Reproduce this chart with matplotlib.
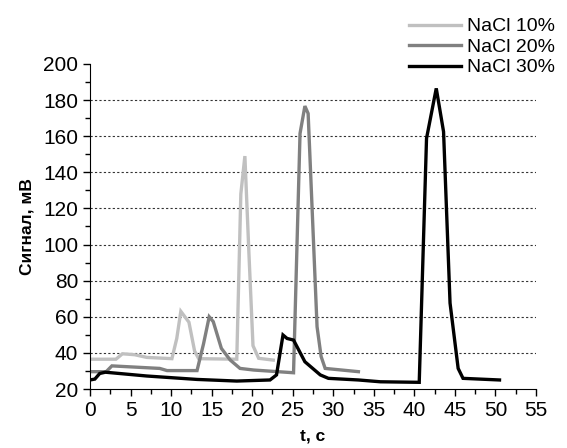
import matplotlib
matplotlib.use("Agg")
import matplotlib.pyplot as plt
from matplotlib.ticker import MultipleLocator

plt.rcParams['font.family'] = ['Liberation Sans', 'DejaVu Sans']

t10 = [0, 3.2, 4.0, 5.5, 7.0, 10.1, 10.7, 11.2, 12.2, 12.9, 13.4, 18.1, 18.6, 19.1, 19.6, 20.1, 20.8, 22.6]
s10 = [36.5, 36.5, 39.5, 39, 37.5, 36.8, 48, 63, 57, 41, 36.8, 36.5, 128, 149, 95, 44, 37, 36]

t20 = [0, 2.0, 2.7, 8.6, 9.5, 13.2, 14.0, 14.7, 15.2, 16.2, 17.3, 18.5, 20.2, 25.1, 25.9, 26.5, 26.9, 28.0, 28.5, 29.0, 33.1]
s20 = [29.6, 29.6, 32.8, 31.4, 30.2, 30.2, 45, 60, 57.3, 42.5, 36, 31.4, 30.5, 29, 161.5, 176.7, 172.6, 54.5, 38, 31.4, 29.6]

t30 = [0, 0.6, 1.2, 1.9, 7.0, 13.2, 18.1, 22.2, 23.0, 23.8, 24.3, 25.1, 26.5, 28.4, 29.4, 33.1, 35.8, 40.6, 41.5, 42.7, 43.6, 44.4, 45.4, 46.0, 50.5]
s30 = [25, 25.5, 28.6, 29.3, 27.2, 25.3, 24.4, 25, 27.8, 49.9, 48, 47.1, 35.1, 27.8, 25.9, 25, 24, 23.7, 158.8, 186.5, 162.5, 67.6, 31.4, 25.9, 25]

labels = ['NaCl 10%', 'NaCl 20%', 'NaCl 30%']
colors = ['#c0c0c0', '#808080', '#000000']

fig = plt.figure(figsize=(5.67, 4.48), dpi=100)
ax = fig.add_axes([90/567, 1-389/448, (536-90)/567, (389-64)/448])

for yv in range(40, 200, 20):
    ax.axhline(yv, color='#333333', lw=0.8, ls=(0, (2, 2)), zorder=0)

for t, s, lab, c in zip([t10, t20, t30], [s10, s20, s30], labels, colors):
    ax.plot(t, s, color=c, lw=2.4, label=lab, solid_joinstyle='miter')

ax.set_xlim(0, 55)
ax.set_ylim(20, 200)
ax.xaxis.set_major_locator(MultipleLocator(5))
ax.xaxis.set_minor_locator(MultipleLocator(2.5))
ax.yaxis.set_major_locator(MultipleLocator(20))
ax.yaxis.set_minor_locator(MultipleLocator(10))
ax.spines['top'].set_visible(False)
ax.spines['right'].set_visible(False)
ax.tick_params(which='major', direction='out', length=5, width=1, labelsize=15)
ax.tick_params(which='minor', direction='out', length=3.5, width=1)
ax.set_xlabel('t, c', fontsize=12.5, fontweight='bold', labelpad=6)
ax.set_ylabel('Сигнал, мВ', fontsize=12.5, fontweight='bold', labelpad=6)

fig.legend(loc='upper right', bbox_to_anchor=(565/567, 1-8/448), frameon=False,
           fontsize=14, handlelength=2.7, handletextpad=0.3, labelspacing=0.15, borderpad=0)

fig.savefig('out.png', dpi=100)
